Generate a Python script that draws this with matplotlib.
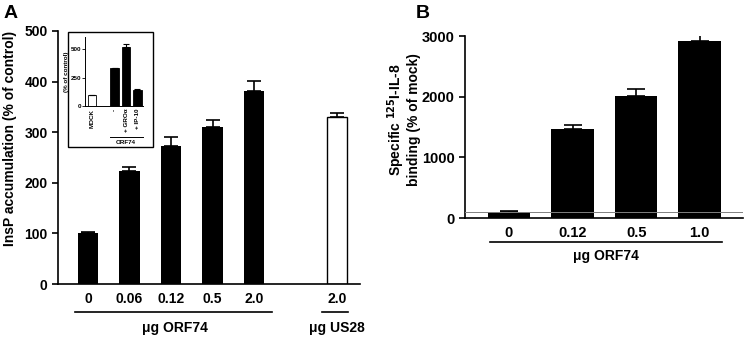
import matplotlib.pyplot as plt
from matplotlib.patches import Rectangle
from matplotlib.lines import Line2D

plt.rcParams['font.family'] = ['Liberation Sans', 'DejaVu Sans']
plt.rcParams['font.weight'] = 'bold'

# Panel A data
a_labels = ['0', '0.06', '0.12', '0.5', '2.0']
a_values = [100, 223, 272, 310, 382]
a_errors = [3, 9, 18, 14, 19]
us28_label = '2.0'
us28_value = 330
us28_error = 8

# Inset data
inset_labels = ['MOCK', '-', '+ GRO\u03b1', '+ IP-10']
inset_values = [100, 333, 526, 140]
inset_errors = [0, 6, 22, 6]

# Panel B data
b_labels = ['0', '0.12', '0.5', '1.0']
b_values = [95, 1470, 2015, 2915]
b_errors = [15, 65, 110, 110]
b_mock_level = 100

W, H = 746, 339
fig = plt.figure(figsize=(W / 100, H / 100), dpi=100)


def fig_rect(x0, y0, x1, y1):
    """Pixel box (top-left origin) -> figure fraction rect."""
    return [x0 / W, 1 - y1 / H, (x1 - x0) / W, (y1 - y0) / H]


def px(x, y):
    return x / W, 1 - y / H


def style_axes(ax, size=10):
    ax.spines['top'].set_visible(False)
    ax.spines['right'].set_visible(False)
    ax.spines['left'].set_linewidth(1.2)
    ax.spines['bottom'].set_linewidth(1.2)
    ax.tick_params(axis='x', length=0)
    ax.tick_params(axis='y', direction='out', length=4, width=1.2, labelsize=size)
    for lab in ax.get_yticklabels():
        lab.set_fontweight('bold')


# ---------------- Panel A ----------------
axA = fig.add_axes(fig_rect(58, 31, 360, 284))
pos_a = list(range(len(a_values)))
axA.bar(pos_a, a_values, width=0.5, color='black')
axA.errorbar(pos_a, a_values, yerr=[[0] * len(a_errors), a_errors], fmt='none',
             ecolor='black', elinewidth=1.2, capsize=5, capthick=1.2)
axA.bar([6], [us28_value], width=0.48, color='white', edgecolor='black', linewidth=1)
axA.errorbar([6], [us28_value], yerr=[[0], [us28_error]], fmt='none',
             ecolor='black', elinewidth=1.2, capsize=5, capthick=1.2)
axA.set_xlim(-0.72, 6.55)
axA.set_ylim(0, 500)
axA.set_yticks([0, 100, 200, 300, 400, 500])
axA.set_xticks(pos_a + [6])
axA.set_xticklabels(a_labels + [us28_label], fontsize=10, fontweight='bold')
axA.tick_params(axis='x', pad=6)
style_axes(axA)
axA.set_ylabel('InsP accumulation (% of control)', fontsize=10, fontweight='bold')
axA.yaxis.set_label_coords(-0.135, 0.577)

fig.add_artist(Line2D([75 / W, 272 / W], [1 - 312 / H] * 2, color='black', lw=1.2))
fig.add_artist(Line2D([322 / W, 348 / W], [1 - 312 / H] * 2, color='black', lw=1.2))
fig.text(*px(175, 328), '\u03bcg ORF74', ha='center', va='center', fontsize=10, fontweight='bold')
fig.text(*px(337, 328), '\u03bcg US28', ha='center', va='center', fontsize=10, fontweight='bold')
fig.text(*px(11, 13), 'A', ha='center', va='center', fontsize=14, fontweight='bold')

# Inset
fig.add_artist(Rectangle(px(68, 147), 85 / W, 115 / H, fill=False, edgecolor='black',
                         lw=1.0, transform=fig.transFigure))
axI = fig.add_axes(fig_rect(85, 37, 143, 106))
pos_i = [0, 2, 3, 4]
axI.bar(pos_i, inset_values, width=0.75, color=['white', 'black', 'black', 'black'],
        edgecolor='black', linewidth=0.6)
axI.errorbar(pos_i, inset_values, yerr=[[0] * 4, inset_errors], fmt='none',
             ecolor='black', elinewidth=0.8, capsize=2, capthick=0.8)
axI.set_xlim(-0.62, 4.5)
axI.set_ylim(0, 610)
axI.set_yticks([0, 250, 500])
axI.set_xticks(pos_i)
axI.set_xticklabels(inset_labels, rotation=90, fontsize=4.5, fontweight='bold')
axI.spines['top'].set_visible(False)
axI.spines['right'].set_visible(False)
axI.spines['left'].set_linewidth(0.7)
axI.spines['bottom'].set_linewidth(0.7)
axI.tick_params(axis='x', length=0, pad=2)
axI.tick_params(axis='y', length=2, width=0.6, labelsize=4.5, pad=1)
axI.set_ylabel('(% of control)', fontsize=4.5, fontweight='bold', labelpad=1)
fig.add_artist(Line2D([110 / W, 143 / W], [1 - 137 / H] * 2, color='black', lw=0.7))
fig.text(*px(126, 142), 'ORF74', ha='center', va='center', fontsize=4.5, fontweight='bold')

# ---------------- Panel B ----------------
axB = fig.add_axes(fig_rect(465, 36, 743, 218))
pos_b = list(range(len(b_values)))
axB.axhline(b_mock_level, color='gray', lw=0.7, zorder=3)
axB.bar(pos_b, b_values, width=0.67, color='black', zorder=2)
axB.errorbar(pos_b, b_values, yerr=[[0] * len(b_errors), b_errors], fmt='none',
             ecolor='black', elinewidth=1.2, capsize=6.5, capthick=1.2, zorder=2)
axB.set_xlim(-0.69, 3.68)
axB.set_ylim(0, 3000)
axB.set_yticks([0, 1000, 2000, 3000])
axB.set_xticks(pos_b)
axB.set_xticklabels(b_labels, fontsize=10.5, fontweight='bold')
axB.tick_params(axis='x', pad=6)
style_axes(axB, size=10.5)
axB.set_ylabel('Specific $\\mathbf{^{125}}$I-IL-8\nbinding (% of mock)',
               fontsize=10, fontweight='bold', linespacing=0.95)
axB.yaxis.set_label_coords(-0.16, 0.54)

fig.add_artist(Line2D([490 / W, 722 / W], [1 - 242 / H] * 2, color='black', lw=1.2))
fig.text(*px(606, 256), '\u03bcg ORF74', ha='center', va='center', fontsize=10, fontweight='bold')
fig.text(*px(423, 13), 'B', ha='center', va='center', fontsize=14, fontweight='bold')

fig.savefig('out.png', dpi=100)
